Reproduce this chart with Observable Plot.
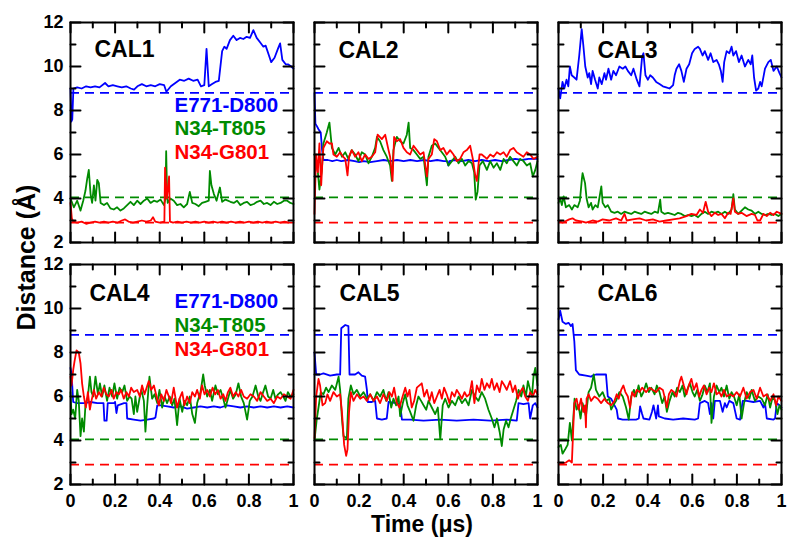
<!DOCTYPE html>
<html>
<head>
<meta charset="utf-8">
<script src="https://cdn.jsdelivr.net/npm/d3@7"></script>
<script src="https://cdn.jsdelivr.net/npm/@observablehq/plot@0.6"></script>
<style>
  html, body { margin: 0; padding: 0; background: #fff; }
  #chart { width: 787px; height: 538px; }
</style>
</head>
<body>
<div id="chart"></div>
<script>
const panels = ["CAL1", "CAL2", "CAL3", "CAL4", "CAL5", "CAL6"];
const seriesNames = ["E771-D800", "N34-T805", "N34-G801"];
const seriesColors = ["#0000ff", "#008b00", "#ff0000"];
const refLevels = [8.8, 4.05, 2.9];
const xDomain = [0, 1];
const yDomain = [2, 12];
const yMajor = [2, 4, 6, 8, 10, 12];
const yMinor = [3, 5, 7, 9, 11];
const xMajor = [0, 0.2, 0.4, 0.6, 0.8, 1];
const xMinor = [0.1, 0.3, 0.5, 0.7, 0.9];
const xTickLabels = ["0", "0.2", "0.4", "0.6", "0.8", "1"];

const cal1_E771 = [[0,9.0],[0.004,7.5],[0.008,7.6],[0.013,9.0],[0.03,9.05],[0.05,9.0],[0.07,9.1],[0.09,9.05],[0.11,9.1],[0.13,9.05],[0.155,9.25],[0.17,9.1],[0.19,9.15],[0.21,9.1],[0.23,9.05],[0.25,9.1],[0.27,9.0],[0.285,8.95],[0.30,9.1],[0.32,9.2],[0.34,9.1],[0.36,9.15],[0.38,9.1],[0.40,9.2],[0.42,9.15],[0.43,8.85],[0.45,9.1],[0.47,9.25],[0.49,9.4],[0.51,9.35],[0.53,9.45],[0.55,9.35],[0.57,9.4],[0.585,9.1],[0.60,9.15],[0.61,10.8],[0.62,9.1],[0.635,9.2],[0.65,9.3],[0.665,9.35],[0.68,10.7],[0.69,10.9],[0.70,10.8],[0.715,11.2],[0.73,11.4],[0.745,11.2],[0.76,11.3],[0.775,11.25],[0.79,11.35],[0.805,11.3],[0.82,11.65],[0.835,11.3],[0.85,11.1],[0.865,10.9],[0.875,10.95],[0.89,10.5],[0.90,10.2],[0.915,10.4],[0.93,10.8],[0.94,11.05],[0.95,10.3],[0.965,10.1],[0.975,10.1],[0.99,10.0],[1,9.9]];
const cal1_T805 = [[0,4.0],[0.015,3.6],[0.03,3.9],[0.045,3.45],[0.057,3.9],[0.067,4.35],[0.075,4.9],[0.082,5.3],[0.09,4.2],[0.097,3.8],[0.105,4.6],[0.112,3.9],[0.12,4.85],[0.127,4.7],[0.135,3.8],[0.15,3.7],[0.164,3.8],[0.179,3.55],[0.194,3.5],[0.209,3.6],[0.224,3.45],[0.239,3.55],[0.254,3.7],[0.269,3.85],[0.284,3.7],[0.299,3.9],[0.314,3.75],[0.329,3.9],[0.344,4.0],[0.359,3.8],[0.374,3.9],[0.389,3.85],[0.404,3.95],[0.419,3.7],[0.426,4.0],[0.429,6.15],[0.433,4.2],[0.436,3.8],[0.448,4.0],[0.463,3.9],[0.478,3.7],[0.493,3.75],[0.508,3.6],[0.523,3.75],[0.535,4.3],[0.546,3.8],[0.56,3.75],[0.575,3.65],[0.59,3.8],[0.605,3.85],[0.62,3.9],[0.625,5.25],[0.632,4.6],[0.643,4.2],[0.655,3.9],[0.67,4.5],[0.68,3.85],[0.695,3.95],[0.717,3.85],[0.732,3.8],[0.747,3.9],[0.762,3.7],[0.777,3.8],[0.792,3.85],[0.807,3.7],[0.822,3.75],[0.837,3.85],[0.852,3.9],[0.867,3.75],[0.882,3.8],[0.897,3.7],[0.912,3.85],[0.927,3.75],[0.942,3.8],[0.957,3.9],[0.972,3.9],[0.986,3.8],[1,3.75]];
const cal1_G801 = [[0,3.8],[0.006,3.1],[0.012,2.95],[0.03,2.9],[0.05,2.95],[0.07,2.85],[0.09,2.9],[0.11,2.95],[0.13,2.9],[0.15,2.95],[0.17,2.9],[0.19,2.95],[0.21,2.9],[0.23,3.0],[0.245,3.05],[0.26,2.95],[0.28,2.9],[0.30,2.95],[0.32,3.0],[0.34,2.95],[0.36,3.0],[0.37,3.15],[0.38,2.95],[0.40,2.9],[0.421,2.95],[0.424,5.4],[0.432,4.0],[0.442,5.0],[0.446,2.95],[0.46,2.9],[0.48,2.95],[0.50,2.9],[0.52,2.95],[0.54,2.9],[0.56,2.95],[0.58,2.9],[0.60,2.95],[0.62,2.9],[0.64,2.95],[0.66,2.9],[0.68,2.95],[0.70,2.9],[0.72,2.95],[0.74,2.9],[0.76,2.95],[0.78,2.9],[0.80,2.95],[0.82,2.9],[0.84,2.95],[0.86,2.9],[0.88,2.95],[0.90,2.9],[0.92,2.95],[0.94,2.9],[0.96,2.95],[0.98,2.9],[1,2.9]];
const cal2_E771 = [[0,8.8],[0.004,7.4],[0.01,7.3],[0.018,7.15],[0.028,7.0],[0.034,6.2],[0.04,5.75],[0.06,5.75],[0.08,5.7],[0.10,5.75],[0.12,5.7],[0.15,5.75],[0.18,5.7],[0.20,5.65],[0.22,5.7],[0.25,5.65],[0.28,5.7],[0.31,5.75],[0.34,5.7],[0.37,5.75],[0.40,5.7],[0.43,5.75],[0.46,5.7],[0.49,5.75],[0.52,5.7],[0.55,5.75],[0.58,5.7],[0.595,5.7],[0.6,5.5],[0.605,5.7],[0.63,5.75],[0.66,5.7],[0.69,5.75],[0.72,5.7],[0.75,5.75],[0.78,5.7],[0.81,5.75],[0.84,5.7],[0.87,5.75],[0.90,5.8],[0.93,5.75],[0.96,5.8],[1,5.8]];
const cal2_T805 = [[0,6.0],[0.015,5.2],[0.022,4.4],[0.033,5.3],[0.04,6.5],[0.055,7.0],[0.067,7.45],[0.078,6.3],[0.093,6.0],[0.108,6.3],[0.123,5.9],[0.138,6.1],[0.152,5.8],[0.167,6.2],[0.182,6.0],[0.197,5.7],[0.212,6.1],[0.227,6.0],[0.242,5.6],[0.257,5.9],[0.272,6.3],[0.28,6.8],[0.294,6.6],[0.309,6.2],[0.324,5.9],[0.339,5.5],[0.347,4.8],[0.354,6.2],[0.369,6.8],[0.384,6.6],[0.399,6.5],[0.414,6.9],[0.422,7.45],[0.429,6.3],[0.444,6.2],[0.459,6.0],[0.474,5.8],[0.489,5.9],[0.504,4.6],[0.511,5.9],[0.526,6.4],[0.541,6.5],[0.556,6.3],[0.571,6.1],[0.586,5.9],[0.601,5.5],[0.616,5.7],[0.631,5.9],[0.646,5.6],[0.661,5.8],[0.676,5.5],[0.691,5.7],[0.706,5.6],[0.716,5.2],[0.723,3.95],[0.731,4.3],[0.74,5.5],[0.755,5.7],[0.773,5.3],[0.788,5.7],[0.803,5.4],[0.818,5.6],[0.833,5.3],[0.848,5.8],[0.862,5.6],[0.877,5.9],[0.892,5.7],[0.907,5.5],[0.922,5.8],[0.937,5.7],[0.952,5.5],[0.967,5.6],[0.979,5.0],[0.99,5.3],[1,5.7]];
const cal2_G801 = [[0,3.3],[0.007,6.0],[0.015,5.2],[0.022,6.5],[0.03,4.6],[0.036,5.8],[0.04,6.3],[0.055,6.6],[0.067,6.5],[0.078,6.5],[0.085,6.0],[0.1,5.9],[0.115,6.1],[0.128,5.9],[0.138,5.8],[0.148,5.05],[0.155,5.9],[0.167,6.2],[0.182,5.9],[0.197,6.1],[0.212,5.7],[0.227,6.0],[0.242,5.8],[0.257,5.9],[0.272,6.1],[0.283,6.9],[0.302,6.7],[0.317,6.9],[0.332,6.2],[0.339,5.9],[0.35,4.8],[0.357,6.8],[0.369,6.6],[0.384,6.7],[0.399,6.3],[0.414,6.1],[0.429,6.0],[0.444,6.4],[0.459,6.2],[0.474,6.0],[0.489,6.1],[0.504,5.0],[0.511,5.8],[0.526,6.0],[0.537,6.7],[0.549,6.6],[0.564,6.2],[0.578,6.3],[0.593,6.0],[0.608,6.2],[0.623,6.0],[0.638,5.7],[0.653,5.8],[0.668,6.1],[0.683,6.2],[0.698,6.4],[0.71,5.8],[0.72,5.1],[0.728,4.8],[0.74,6.0],[0.75,6.0],[0.762,5.9],[0.773,5.8],[0.788,6.0],[0.803,5.9],[0.818,6.1],[0.833,6.0],[0.848,6.1],[0.862,5.9],[0.877,6.2],[0.892,6.3],[0.907,6.1],[0.922,6.0],[0.937,5.9],[0.952,6.1],[0.967,6.0],[0.982,5.8],[1,5.9]];
const cal3_E771 = [[0,9.0],[0.0075,8.55],[0.018,9.3],[0.026,9.0],[0.036,9.4],[0.044,9.1],[0.051,10.0],[0.059,9.6],[0.071,9.5],[0.081,9.4],[0.093,10.5],[0.104,11.7],[0.111,11.0],[0.12,10.0],[0.131,9.5],[0.138,9.7],[0.146,9.2],[0.153,9.8],[0.164,9.4],[0.176,9.0],[0.183,9.5],[0.194,9.2],[0.206,9.7],[0.213,9.4],[0.224,9.9],[0.236,9.4],[0.246,9.8],[0.258,9.6],[0.273,10.0],[0.288,9.9],[0.3,10.0],[0.311,9.8],[0.326,9.6],[0.336,9.9],[0.351,9.4],[0.363,9.1],[0.375,10.45],[0.381,10.6],[0.39,9.6],[0.401,9.4],[0.411,9.6],[0.423,9.5],[0.438,9.3],[0.453,9.2],[0.468,9.1],[0.483,9.05],[0.498,9.0],[0.514,9.15],[0.521,9.6],[0.529,9.9],[0.541,10.1],[0.551,9.8],[0.562,9.3],[0.574,9.9],[0.586,10.1],[0.599,10.6],[0.611,10.8],[0.626,10.9],[0.634,10.8],[0.646,10.5],[0.656,10.7],[0.671,10.3],[0.682,10.6],[0.694,10.2],[0.709,10.3],[0.719,10.1],[0.728,9.8],[0.736,9.3],[0.743,10.2],[0.754,10.7],[0.766,10.6],[0.776,10.9],[0.784,10.5],[0.796,10.7],[0.809,10.2],[0.821,10.5],[0.836,10.0],[0.851,10.3],[0.862,10.1],[0.869,10.5],[0.877,9.5],[0.886,8.9],[0.896,9.0],[0.904,9.3],[0.911,9.1],[0.926,9.9],[0.941,10.2],[0.952,10.3],[0.964,9.8],[0.979,10.0],[0.991,9.7],[1,9.5]];
const cal3_T805 = [[0,3.8],[0.0075,4.0],[0.015,3.7],[0.023,4.1],[0.033,3.6],[0.048,3.7],[0.06,3.5],[0.071,3.7],[0.086,3.6],[0.096,3.9],[0.105,4.9],[0.108,5.15],[0.119,4.7],[0.126,4.0],[0.135,3.6],[0.146,3.8],[0.153,3.5],[0.165,3.7],[0.176,3.6],[0.183,4.0],[0.192,4.55],[0.198,3.8],[0.21,3.6],[0.221,3.7],[0.236,3.4],[0.251,3.35],[0.266,3.4],[0.281,3.3],[0.296,3.4],[0.311,3.35],[0.326,3.3],[0.341,3.4],[0.356,3.35],[0.371,3.3],[0.386,3.4],[0.401,3.35],[0.416,3.3],[0.431,3.4],[0.446,3.35],[0.456,3.95],[0.461,3.4],[0.476,3.3],[0.491,3.35],[0.506,3.3],[0.521,3.25],[0.536,3.35],[0.551,3.3],[0.566,3.2],[0.581,3.25],[0.596,3.2],[0.611,3.25],[0.626,3.15],[0.641,3.3],[0.656,3.4],[0.671,3.3],[0.686,3.4],[0.701,3.35],[0.716,3.4],[0.731,3.3],[0.746,3.4],[0.761,3.3],[0.776,3.5],[0.784,4.2],[0.791,3.5],[0.806,3.3],[0.821,3.45],[0.836,3.6],[0.851,3.5],[0.866,3.45],[0.881,3.3],[0.896,3.4],[0.911,3.3],[0.926,3.25],[0.941,3.3],[0.956,3.25],[0.971,3.3],[0.986,3.2],[1,3.3]];
const cal3_G801 = [[0,3.0],[0.018,2.9],[0.048,3.05],[0.063,3.1],[0.078,3.0],[0.108,2.95],[0.123,2.9],[0.153,3.0],[0.176,2.95],[0.198,3.05],[0.228,3.0],[0.258,3.1],[0.281,3.0],[0.296,3.3],[0.306,3.0],[0.333,3.05],[0.363,3.1],[0.393,3.0],[0.423,3.05],[0.453,2.95],[0.483,3.0],[0.514,3.05],[0.543,3.1],[0.574,3.2],[0.596,3.3],[0.619,3.25],[0.634,3.5],[0.648,3.35],[0.66,3.85],[0.671,3.4],[0.686,3.2],[0.701,3.35],[0.716,3.25],[0.731,3.3],[0.746,3.1],[0.761,3.35],[0.772,3.3],[0.784,4.0],[0.791,3.4],[0.806,3.3],[0.821,3.35],[0.843,3.2],[0.866,3.3],[0.881,3.25],[0.892,3.0],[0.904,3.0],[0.919,3.3],[0.934,3.2],[0.949,3.35],[0.964,3.25],[0.979,3.4],[1,3.3]];
const cal4_E771 = [[0,7.3],[0.005,7.0],[0.012,5.75],[0.03,5.7],[0.06,5.7],[0.09,5.75],[0.12,5.7],[0.148,5.7],[0.152,4.9],[0.162,4.9],[0.167,5.7],[0.195,5.7],[0.2,5.75],[0.206,5.25],[0.212,5.6],[0.24,5.7],[0.251,5.7],[0.254,5.0],[0.284,4.95],[0.314,4.9],[0.344,4.95],[0.374,5.0],[0.381,5.05],[0.389,5.6],[0.404,5.6],[0.434,5.55],[0.463,5.5],[0.493,5.55],[0.523,5.45],[0.553,5.5],[0.583,5.55],[0.613,5.5],[0.643,5.55],[0.672,5.5],[0.702,5.6],[0.732,5.55],[0.762,5.5],[0.792,5.55],[0.822,5.5],[0.852,5.55],[0.882,5.5],[0.912,5.55],[0.942,5.5],[0.972,5.55],[1,5.5]];
const cal4_T805 = [[0,6.2],[0.0045,5.2],[0.012,5.4],[0.021,5.0],[0.03,6.3],[0.037,5.8],[0.045,4.2],[0.052,5.0],[0.06,4.4],[0.067,5.6],[0.078,6.0],[0.087,6.9],[0.094,6.2],[0.102,6.0],[0.112,6.9],[0.123,6.1],[0.132,6.6],[0.142,6.0],[0.152,6.5],[0.164,5.8],[0.175,6.4],[0.187,6.0],[0.197,6.6],[0.209,5.9],[0.22,6.4],[0.232,6.2],[0.242,6.5],[0.254,5.8],[0.265,6.0],[0.274,5.9],[0.284,5.2],[0.291,6.0],[0.299,5.3],[0.311,6.0],[0.318,6.3],[0.329,5.8],[0.336,4.4],[0.344,5.6],[0.354,6.9],[0.366,5.9],[0.377,6.1],[0.389,5.7],[0.399,6.3],[0.411,5.5],[0.422,6.0],[0.433,5.7],[0.445,6.0],[0.456,5.6],[0.466,5.9],[0.478,4.7],[0.489,5.9],[0.501,5.3],[0.511,5.8],[0.523,5.6],[0.535,6.0],[0.546,5.2],[0.558,4.8],[0.568,5.7],[0.583,6.2],[0.595,7.0],[0.602,6.5],[0.613,6.0],[0.625,6.3],[0.635,5.8],[0.65,6.5],[0.661,6.1],[0.673,6.3],[0.685,5.9],[0.695,5.5],[0.706,5.9],[0.717,6.3],[0.729,5.9],[0.741,6.1],[0.753,6.6],[0.765,6.0],[0.777,5.7],[0.792,4.95],[0.804,5.8],[0.816,6.0],[0.83,6.5],[0.842,6.0],[0.852,5.8],[0.864,6.2],[0.874,6.5],[0.886,6.0],[0.897,5.9],[0.909,6.3],[0.919,5.9],[0.931,6.1],[0.942,6.2],[0.954,6.0],[0.964,5.8],[0.975,6.2],[0.987,6.0],[1,6.1]];
const cal4_G801 = [[0,6.9],[0.0045,6.5],[0.012,7.2],[0.018,7.6],[0.027,8.1],[0.037,8.0],[0.045,7.5],[0.052,6.6],[0.06,6.0],[0.069,5.5],[0.078,6.2],[0.087,5.4],[0.094,5.8],[0.105,6.3],[0.115,5.9],[0.127,6.2],[0.139,6.0],[0.149,6.4],[0.161,6.1],[0.172,6.0],[0.184,6.3],[0.194,5.9],[0.206,6.2],[0.217,6.1],[0.227,6.3],[0.239,5.9],[0.251,6.2],[0.262,6.0],[0.272,6.4],[0.284,6.2],[0.299,6.3],[0.311,6.0],[0.321,6.5],[0.332,6.1],[0.351,6.7],[0.362,6.3],[0.374,6.5],[0.386,6.0],[0.396,5.6],[0.407,6.1],[0.419,5.8],[0.43,6.3],[0.441,6.0],[0.451,5.7],[0.463,6.4],[0.478,5.5],[0.489,5.9],[0.501,6.2],[0.511,5.6],[0.523,6.0],[0.535,5.7],[0.546,6.2],[0.558,6.0],[0.568,6.3],[0.58,5.9],[0.59,6.5],[0.601,6.1],[0.613,6.3],[0.625,6.0],[0.637,6.4],[0.649,6.1],[0.661,6.3],[0.673,5.9],[0.685,6.1],[0.695,5.8],[0.706,6.2],[0.717,6.4],[0.729,6.0],[0.741,6.2],[0.753,6.0],[0.765,6.3],[0.777,6.0],[0.792,5.9],[0.807,6.1],[0.822,6.0],[0.837,5.8],[0.852,6.2],[0.867,6.0],[0.882,5.8],[0.897,5.9],[0.912,5.7],[0.927,6.0],[0.942,5.9],[0.957,6.1],[0.972,6.0],[0.987,5.9],[1,6.3]];
const cal5_E771 = [[0,8.0],[0.0075,7.0],[0.025,7.0],[0.04,7.05],[0.07,6.95],[0.1,7.0],[0.115,7.0],[0.12,9.1],[0.138,9.25],[0.152,9.2],[0.157,7.0],[0.182,7.0],[0.197,7.1],[0.212,6.95],[0.227,6.9],[0.235,6.3],[0.239,5.75],[0.257,5.75],[0.272,5.8],[0.28,5.0],[0.302,4.95],[0.324,5.0],[0.332,5.75],[0.369,5.7],[0.384,5.65],[0.392,4.95],[0.429,4.95],[0.489,4.9],[0.564,4.95],[0.638,4.9],[0.713,4.95],[0.788,4.9],[0.862,4.95],[0.907,4.9],[0.915,5.7],[0.937,5.65],[0.96,5.7],[0.967,5.0],[0.979,5.6],[0.99,5.7],[1,5.5]];
const cal5_T805 = [[0,4.0],[0.0105,5.0],[0.018,5.5],[0.028,6.2],[0.04,6.1],[0.052,6.4],[0.063,6.2],[0.078,6.5],[0.093,6.3],[0.108,6.9],[0.115,6.3],[0.123,5.0],[0.13,4.2],[0.145,4.1],[0.152,5.9],[0.163,6.5],[0.175,6.1],[0.19,6.3],[0.205,6.0],[0.22,6.2],[0.235,5.9],[0.25,6.1],[0.265,5.8],[0.28,6.2],[0.294,6.0],[0.309,6.3],[0.321,5.8],[0.332,6.2],[0.344,5.5],[0.354,5.9],[0.366,5.6],[0.377,6.0],[0.384,5.1],[0.396,5.7],[0.407,6.1],[0.417,5.6],[0.429,5.3],[0.444,4.9],[0.456,5.6],[0.466,6.0],[0.478,5.8],[0.489,5.6],[0.501,5.4],[0.511,5.8],[0.526,5.5],[0.541,5.2],[0.553,5.5],[0.564,4.05],[0.575,5.6],[0.586,5.9],[0.601,5.5],[0.616,5.8],[0.631,5.6],[0.646,6.0],[0.661,5.7],[0.676,5.9],[0.691,5.6],[0.706,6.3],[0.72,6.0],[0.735,5.8],[0.75,6.2],[0.765,5.9],[0.78,5.4],[0.795,5.0],[0.807,4.6],[0.818,5.0],[0.83,4.4],[0.84,3.75],[0.848,4.5],[0.859,4.9],[0.87,4.6],[0.88,5.0],[0.892,5.4],[0.904,5.8],[0.915,6.3],[0.927,6.0],[0.937,6.5],[0.948,6.0],[0.957,6.7],[0.967,6.3],[0.975,6.0],[0.982,6.9],[0.99,7.3],[1,6.5]];
const cal5_G801 = [[0,4.1],[0.0075,6.0],[0.018,6.8],[0.025,6.5],[0.036,5.6],[0.048,5.7],[0.058,6.1],[0.07,5.8],[0.085,6.2],[0.1,6.0],[0.115,6.1],[0.123,5.3],[0.133,3.8],[0.142,3.3],[0.148,3.6],[0.155,5.3],[0.163,6.2],[0.175,5.8],[0.19,6.1],[0.205,5.9],[0.22,6.0],[0.235,5.8],[0.25,6.1],[0.265,5.8],[0.28,6.0],[0.294,5.7],[0.309,6.1],[0.324,5.8],[0.336,6.2],[0.347,6.0],[0.357,6.4],[0.369,5.7],[0.381,5.5],[0.392,5.9],[0.407,6.4],[0.417,6.0],[0.426,6.3],[0.436,5.5],[0.447,5.8],[0.459,6.4],[0.481,6.6],[0.492,6.0],[0.504,6.3],[0.516,5.8],[0.526,6.2],[0.537,5.7],[0.549,6.0],[0.561,6.3],[0.571,5.9],[0.581,6.4],[0.593,6.1],[0.605,5.7],[0.616,6.2],[0.628,6.0],[0.638,6.3],[0.65,6.1],[0.661,5.9],[0.673,6.2],[0.683,6.0],[0.695,6.1],[0.706,6.7],[0.717,5.7],[0.728,6.5],[0.74,6.2],[0.75,6.8],[0.762,6.3],[0.773,6.6],[0.785,6.4],[0.795,6.8],[0.806,6.3],[0.818,6.6],[0.83,6.2],[0.84,6.7],[0.852,6.5],[0.862,6.3],[0.877,6.7],[0.889,6.2],[0.9,6.5],[0.912,5.9],[0.922,6.2],[0.934,6.4],[0.945,6.0],[0.957,5.8],[0.967,6.2],[0.979,6.0],[0.99,6.3],[1,6.1]];
const cal6_E771 = [[0,9.5],[0.0075,9.9],[0.018,9.4],[0.033,9.3],[0.045,9.35],[0.056,9.2],[0.063,9.3],[0.071,8.5],[0.078,7.2],[0.093,7.0],[0.123,6.95],[0.146,6.9],[0.153,6.95],[0.168,7.0],[0.198,7.0],[0.213,7.0],[0.221,6.0],[0.236,5.9],[0.251,5.6],[0.261,5.4],[0.267,5.0],[0.288,4.95],[0.348,4.95],[0.36,5.0],[0.366,5.55],[0.375,5.2],[0.381,5.0],[0.408,4.95],[0.419,5.3],[0.426,5.6],[0.438,5.0],[0.446,5.6],[0.45,5.1],[0.476,5.0],[0.514,4.95],[0.559,5.0],[0.611,4.95],[0.626,5.0],[0.634,5.7],[0.656,5.8],[0.671,5.7],[0.679,5.2],[0.686,5.7],[0.694,5.0],[0.701,5.8],[0.724,5.8],[0.736,5.3],[0.746,5.7],[0.754,5.5],[0.766,5.8],[0.784,5.7],[0.799,5.0],[0.814,4.95],[0.826,5.8],[0.844,5.8],[0.874,5.75],[0.904,5.8],[0.919,5.5],[0.926,5.7],[0.934,5.0],[0.964,4.95],[0.971,5.0],[0.979,5.7],[0.991,5.6],[1,5.5]];
const cal6_T805 = [[0,3.7],[0.0105,3.8],[0.018,3.4],[0.03,3.6],[0.041,3.8],[0.051,4.8],[0.06,4.0],[0.072,5.9],[0.081,5.4],[0.09,5.6],[0.099,5.0],[0.108,5.7],[0.123,5.1],[0.135,6.2],[0.146,6.4],[0.158,7.0],[0.168,6.3],[0.183,6.0],[0.198,6.2],[0.213,5.8],[0.228,5.9],[0.236,5.4],[0.246,5.6],[0.258,5.8],[0.273,6.2],[0.288,6.0],[0.303,5.5],[0.315,4.95],[0.326,6.0],[0.338,6.3],[0.348,6.0],[0.359,6.5],[0.371,6.0],[0.381,6.2],[0.393,6.6],[0.405,6.2],[0.416,6.4],[0.431,6.1],[0.441,6.5],[0.453,6.2],[0.465,5.7],[0.476,6.0],[0.486,5.3],[0.498,5.8],[0.511,6.2],[0.521,6.0],[0.532,6.4],[0.544,6.2],[0.556,6.5],[0.566,6.0],[0.577,6.3],[0.589,6.6],[0.601,6.2],[0.611,6.0],[0.622,6.3],[0.634,5.8],[0.646,6.1],[0.656,6.5],[0.668,6.2],[0.679,6.6],[0.686,4.8],[0.697,6.0],[0.709,6.5],[0.721,6.2],[0.731,6.4],[0.742,6.0],[0.754,6.5],[0.766,5.9],[0.776,6.2],[0.787,6.0],[0.799,5.6],[0.811,6.1],[0.821,5.0],[0.832,5.7],[0.844,6.2],[0.856,5.9],[0.866,6.3],[0.881,5.8],[0.896,6.0],[0.911,5.9],[0.926,5.6],[0.938,6.1],[0.949,5.5],[0.961,6.0],[0.971,5.8],[0.982,5.2],[0.991,5.6],[1,5.4]];
const cal6_G801 = [[0,3.0],[0.018,2.95],[0.033,3.0],[0.048,3.1],[0.06,3.0],[0.066,4.5],[0.071,5.7],[0.081,5.9],[0.09,5.4],[0.101,5.9],[0.111,5.3],[0.119,5.6],[0.123,4.6],[0.126,5.9],[0.135,6.1],[0.146,5.8],[0.161,6.0],[0.176,5.9],[0.191,5.7],[0.206,5.9],[0.221,5.7],[0.236,5.6],[0.251,5.8],[0.261,6.1],[0.27,5.9],[0.281,6.3],[0.291,6.5],[0.3,6.2],[0.311,6.0],[0.321,5.5],[0.33,6.2],[0.341,6.0],[0.351,6.3],[0.363,6.2],[0.375,6.4],[0.393,6.2],[0.408,6.4],[0.423,6.3],[0.438,6.2],[0.453,6.4],[0.468,6.3],[0.48,5.8],[0.486,5.5],[0.495,6.1],[0.506,6.3],[0.518,6.2],[0.529,6.0],[0.544,6.7],[0.551,6.9],[0.562,6.5],[0.574,6.1],[0.584,6.5],[0.596,6.8],[0.607,6.3],[0.619,6.6],[0.631,6.0],[0.641,6.3],[0.652,6.5],[0.664,6.1],[0.676,6.4],[0.686,6.2],[0.697,6.6],[0.709,6.1],[0.721,6.2],[0.731,6.0],[0.742,6.3],[0.754,6.0],[0.769,6.1],[0.784,6.0],[0.799,6.2],[0.814,6.0],[0.829,6.4],[0.844,5.9],[0.859,6.2],[0.874,6.3],[0.889,5.9],[0.904,6.4],[0.919,6.0],[0.934,6.1],[0.949,5.8],[0.964,6.1],[0.976,5.6],[0.986,6.0],[1,5.8]];

const panelSeries = [
  [cal1_E771, cal1_T805, cal1_G801],
  [cal2_E771, cal2_T805, cal2_G801],
  [cal3_E771, cal3_T805, cal3_G801],
  [cal4_E771, cal4_T805, cal4_G801],
  [cal5_E771, cal5_T805, cal5_G801],
  [cal6_E771, cal6_T805, cal6_G801]
];

const FONT = "'Liberation Sans', Arial, Helvetica, sans-serif";
const PANEL_W = 223, PANEL_H = 220;
const MAJOR = 10, MINOR = 5;
const titleDx = [24, 24, 39, 19, 25, 39];
const titleDy = [27, 28, 28, 29, 29, 29];
const legendPanels = [0, 3];
const legendDy = {0: [83, 106, 129.5], 3: [37, 60.5, 85]};

const rows = [];
panelSeries.forEach((set, p) => {
  set.forEach((pts, s) => {
    pts.forEach(([t, v]) => rows.push({col: p % 3, row: Math.floor(p / 3), series: seriesNames[s], t, v}));
  });
});
const refs = refLevels.map((v, s) => ({series: seriesNames[s], v}));

// tick segments as short two-point lines, one group per tick (z = id)
const [x0, x1] = xDomain, [y0, y1] = yDomain;
const pxToX = (px) => px / PANEL_W * (x1 - x0);
const pxToY = (px) => px / PANEL_H * (y1 - y0);
const tickPts = [];
let tid = 0;
panels.forEach((_, p) => {
  const col = p % 3, row = Math.floor(p / 3);
  const seg = (ta, va, tb, vb) => { const id = "k" + (tid++); tickPts.push({col, row, id, t: ta, v: va}, {col, row, id, t: tb, v: vb}); };
  [[yMajor, MAJOR], [yMinor, MINOR]].forEach(([ticks, len]) => ticks.forEach((v) => {
    seg(x0, v, x0 + pxToX(len), v);
    seg(x1, v, x1 - pxToX(len), v);
  }));
  [[xMajor, MAJOR], [xMinor, MINOR]].forEach(([ticks, len]) => ticks.forEach((t) => {
    seg(t, y0, t, y0 + pxToY(len));
    seg(t, y1, t, y1 - pxToY(len));
  }));
});

const marks = [
  Plot.ruleY(refs, {y: "v", stroke: "series", strokeWidth: 1.8, strokeDasharray: "9,6"}),
  ...seriesNames.map((name) => Plot.line(rows.filter(d => d.series === name), {
    x: "t", y: "v", fx: "col", fy: "row", stroke: "series", strokeWidth: 1.8, strokeLinejoin: "round"
  })),
  // ticks drawn with the same mark type and channels as the series (stroke via the color scale is avoided: constant)
  Plot.line(tickPts, {x: "t", y: "v", z: "id", fx: "col", fy: "row", stroke: "#000000", strokeWidth: 2}),
  Plot.frame({stroke: "black", strokeWidth: 2}),
  Plot.axisY({anchor: "left", ticks: yMajor, tickSize: 0, tickPadding: 7, label: null,
    fontSize: 18, fontWeight: "bold", fontFamily: FONT}),
  Plot.axisX({anchor: "bottom", ticks: xMajor, tickSize: 0, tickPadding: 10, label: null,
    tickFormat: (d, i) => xTickLabels[i], fontSize: 18, fontWeight: "bold", fontFamily: FONT}),
  ...panels.map((name, p) => Plot.text([name], {
    fx: () => p % 3, fy: () => Math.floor(p / 3), text: d => d,
    frameAnchor: "top-left", textAnchor: "start", lineAnchor: "middle", dx: titleDx[p], dy: titleDy[p],
    fontSize: 23, fontWeight: "bold", fontFamily: FONT, fill: "black"
  })),
  ...legendPanels.flatMap((p) => seriesNames.map((name, s) => Plot.text([name], {
    fx: () => p % 3, fy: () => Math.floor(p / 3), text: d => d,
    frameAnchor: "top-left", textAnchor: "start", lineAnchor: "middle", dx: 104, dy: legendDy[p][s],
    fontSize: 20.5, fontWeight: "bold", fontFamily: FONT, fill: seriesColors[s]
  }))),
  Plot.text(["Distance (Å)"], {
    fx: () => 0, fy: () => 0, text: d => d, frameAnchor: "bottom-left", rotate: -90,
    textAnchor: "middle", lineAnchor: "middle",
    dx: -44, dy: 15, fontSize: 25, fontWeight: "bold", fontFamily: FONT, fill: "black"
  }),
  Plot.text(["Time (μs)"], {
    fx: () => 1, fy: () => 1, text: d => d, frameAnchor: "bottom",
    textAnchor: "middle", lineAnchor: "middle",
    dx: -4, dy: 40, fontSize: 23, fontWeight: "bold", fontFamily: FONT, fill: "black"
  })
];

const chart = Plot.plot({
  width: 787,
  height: 538,
  marginLeft: 70,
  marginRight: 6,
  marginTop: 22,
  marginBottom: 54,
  style: {fontFamily: FONT, fontWeight: "bold", color: "black", background: "white"},
  x: {domain: xDomain},
  y: {domain: yDomain},
  fx: {domain: [0, 1, 2], paddingInner: 21 / 244, paddingOuter: 0, round: false, axis: null, label: null},
  fy: {domain: [0, 1], paddingInner: 22 / 242, paddingOuter: 0, round: false, axis: null, label: null},
  color: {domain: seriesNames, range: seriesColors},
  marks
});
document.getElementById("chart").appendChild(chart);
</script>
</body>
</html>
